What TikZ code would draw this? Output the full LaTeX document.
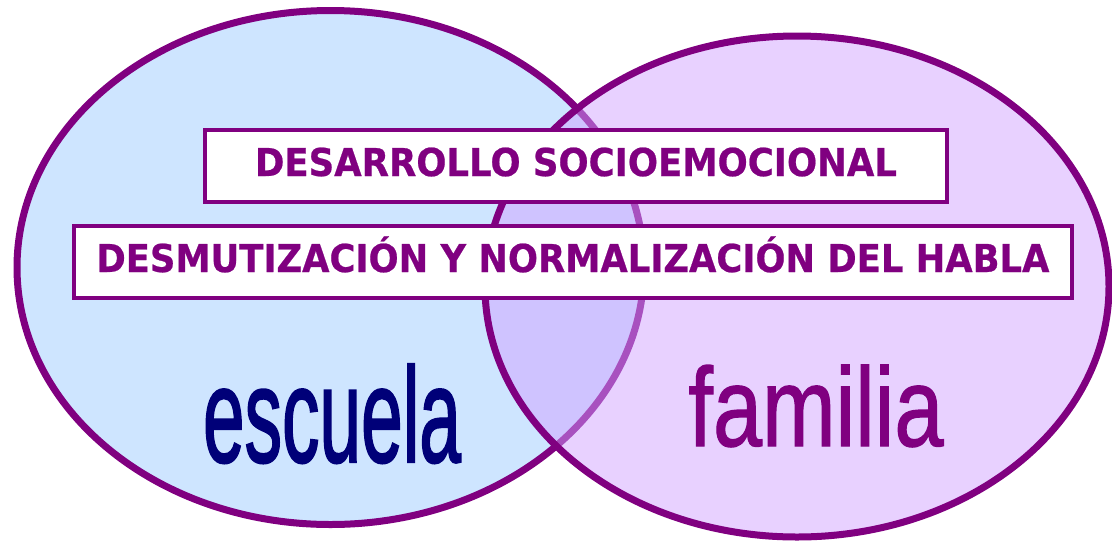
\documentclass[tikz,border=0pt]{standalone}
\usepackage{graphicx}
\usepackage{fontspec}
\setmainfont{Liberation Sans}
\newfontfamily\boxfont[FakeBold=0.6]{DejaVu Sans Bold}
\newfontfamily\wordfont[FakeBold=1.8]{Liberation Sans}
\newfontfamily\famfont[FakeBold=1.2]{Liberation Sans}
\usetikzlibrary{shapes.geometric}
\definecolor{vpurple}{RGB}{128,0,128}
\definecolor{vblue}{RGB}{206,229,255}
\definecolor{vlilac}{RGB}{209,163,255}
\definecolor{vnavy}{RGB}{0,0,120}
\newcommand\fitcap[3]{\resizebox{#1}{#2}{\raisebox{0pt}[\fontcharht\font`D][0pt]{#3}}}
\newcommand\fitasc[3]{\resizebox{#1}{#2}{\raisebox{0pt}[\fontcharht\font`l][0pt]{#3}}}
\tikzset{
  circ/.style={ellipse, draw=vpurple, line width=7pt, inner sep=0pt, outer sep=0pt},
  labelbox/.style={rectangle, draw=vpurple, line width=3.5pt, fill=white, inner sep=0pt,
    text height=28pt, text depth=8pt, minimum height=72pt,
    font=\boxfont\fontsize{38}{40}\selectfont, text=vpurple},
  word/.style={anchor=base, inner sep=0pt}
}
\begin{document}
\begin{tikzpicture}[x=1pt, y=-1pt]
\useasboundingbox (0,0) rectangle (1112,542);
\node[circ, fill=vblue, minimum width=627pt, minimum height=514pt] (escuelaE) at (330.5,267.5) {};
\node[circ, fill=vlilac, fill opacity=0.5, draw opacity=1, minimum width=624pt, minimum height=501pt] (familiaE) at (797,286.5) {};
\node[labelbox, minimum width=742pt] (socio) at (576,166) {\fitcap{642pt}{28pt}{DESARROLLO SOCIOEMOCIONAL}};
\node[labelbox, minimum width=998pt] (habla) at (573,262) {\fitcap{953pt}{28pt}{DESMUTIZACIÓN Y NORMALIZACIÓN DEL HABLA}};
\node[word, text=vnavy, font=\wordfont\fontsize{120}{120}\selectfont] (escuela) at (332,462) {\fitasc{258pt}{93pt}{escuela}};
\node[word, text=vpurple, font=\famfont\fontsize{120}{120}\selectfont] (familia) at (816,446) {\fitasc{255pt}{77pt}{familia}};
\end{tikzpicture}
\end{document}
